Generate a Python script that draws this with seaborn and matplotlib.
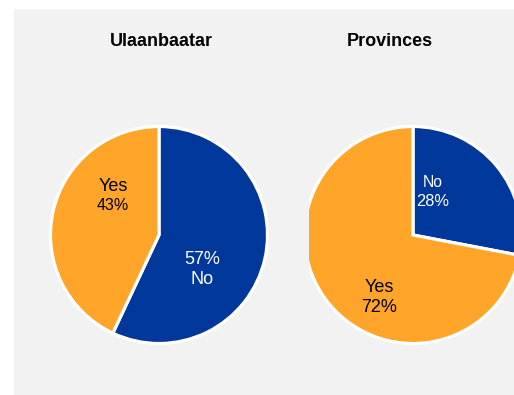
import matplotlib
matplotlib.use("Agg")
import matplotlib.pyplot as plt
from matplotlib.patches import Rectangle
import seaborn as sns

# Survey answers by region
regions = ["Ulaanbaatar", "Provinces"]
answers = ["No", "Yes"]
shares = {
    "Ulaanbaatar": [57, 43],
    "Provinces": [28, 72],
}

sns.set_style("white")
plt.rcParams["font.family"] = ["Liberation Sans", "DejaVu Sans"]

palette = {"No": "#00379A", "Yes": "#FFA52A"}
text_colors = {"No": "white", "Yes": "black"}

W, H = 514, 395
fig = plt.figure(figsize=(W / 100, H / 100), dpi=100, facecolor="white")

# grey panel behind the charts
fig.patches.append(Rectangle((14 / W, 0), (W - 14) / W, (H - 9) / H,
                             transform=fig.transFigure, facecolor="#F2F2F2",
                             edgecolor="none", zorder=-5))


def pixel_axes(x0, x1, y0, y1):
    ax = fig.add_axes([x0 / W, 1 - y1 / H, (x1 - x0) / W, (y1 - y0) / H])
    ax.axis("off")
    ax.patch.set_alpha(0)
    return ax


def pixel_limits(ax, x0, x1, y0, y1, cx, cy):
    """Make data units equal to pixels, centred on (cx, cy)."""
    ax.set_xlim(x0 - cx, x1 - cx)
    ax.set_ylim(cy - y1, cy - y0)
    ax.set_aspect("equal")


# layout: (axes box, pie centre, title x, label layout)
layouts = {
    "Ulaanbaatar": dict(box=(30, 290, 110, 360), centre=(159, 235), title_x=161,
                        labels={"Yes": ((113, 197), ("Yes", 13), ("pct", 11.5)),
                                "No": ((202, 270), ("pct", 13), ("No", 13))}),
    "Provinces": dict(box=(309, 514, 110, 360), centre=(413, 235), title_x=390,
                      labels={"No": ((433, 192), ("No", 11.3), ("pct", 11.8)),
                              "Yes": ((379, 298), ("Yes", 13), ("pct", 13))}),
}

R = 108.5
for region in regions:
    lay = layouts[region]
    x0, x1, y0, y1 = lay["box"]
    cx, cy = lay["centre"]
    ax = pixel_axes(x0, x1, y0, y1)
    vals = shares[region]
    wedges, _ = ax.pie(vals, colors=[palette[a] for a in answers], startangle=90,
                       counterclock=False, radius=R,
                       wedgeprops=dict(edgecolor="white", linewidth=2.3))
    for w in wedges:
        w.set_clip_on(True)
    pixel_limits(ax, x0, x1, y0, y1, cx, cy)
    for ans, v in zip(answers, vals):
        (px, py), first, second = lay["labels"][ans]
        parts = []
        for kind, size in (first, second):
            parts.append((f"{v}%" if kind == "pct" else ans, size))
        lx, ly = px - cx, cy - py
        ax.text(lx, ly + 2, parts[0][0], ha="center", va="bottom",
                fontsize=parts[0][1], color=text_colors[ans])
        ax.text(lx, ly - 1.5, parts[1][0], ha="center", va="top",
                fontsize=parts[1][1], color=text_colors[ans])
    fig.text(lay["title_x"] / W, 1 - 41 / H, region, ha="center", va="center",
             fontsize=13, fontweight="bold", color="black")

fig.savefig("out.png", dpi=100, facecolor="white")
